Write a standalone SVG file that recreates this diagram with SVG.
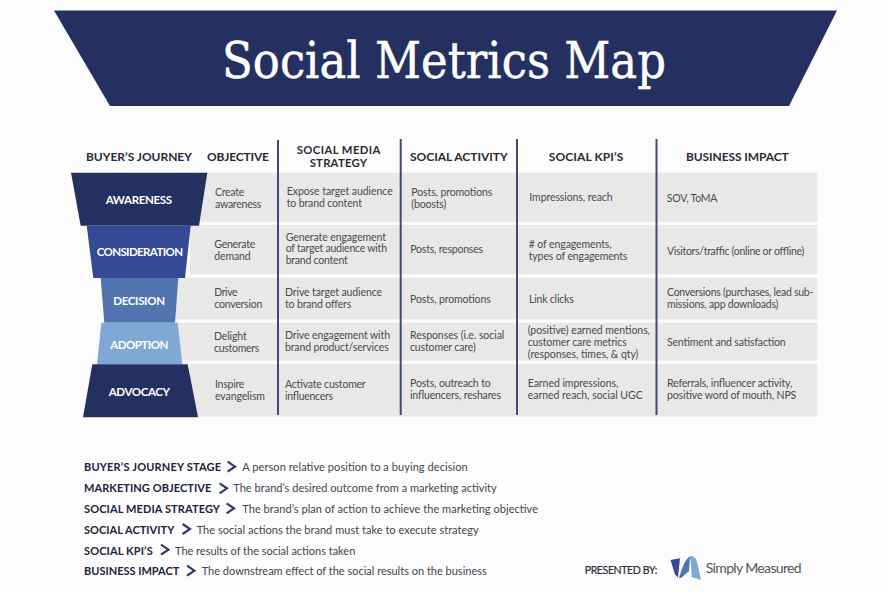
<svg xmlns="http://www.w3.org/2000/svg" width="889" height="593" viewBox="0 0 889 593">
<style>
text{font-family:"Lato","Liberation Sans",sans-serif}
.h{font-size:12px;font-weight:700;fill:#2b2b33}
.h2{font-size:11.3px;font-weight:700;fill:#2b2b33}
.b{font-size:10.5px;fill:#4a4a50}
.f{font-size:11.5px;font-weight:700;fill:#fff}
.k{font-size:11px;font-weight:700;fill:#23233a}
.d{font-size:11px;fill:#44444c}
.c{fill:none;stroke:#2f3a68;stroke-width:2.2;stroke-linecap:butt;stroke-linejoin:miter}
.r{fill:#e8e8e6}
.v{stroke:#3f4a7c;stroke-width:2}
</style>
<rect width="889" height="593" fill="#fcfcfd"/>
<g id="banner">
<polygon points="54,10.5 837,10.5 789,106 110,106" fill="#24305f"/>
<text x="222" y="78" font-size="50" fill="#fff" stroke="#fff" stroke-width="0.5" style="font-family:'DejaVu Serif','Liberation Serif',serif" textLength="444" lengthAdjust="spacingAndGlyphs">Social Metrics Map</text>
</g>
<g id="rows">
<rect class="r" x="190" y="172.7" width="627.3" height="49.3"/>
<rect class="r" x="190" y="225" width="627.3" height="49.3"/>
<rect class="r" x="170" y="277.7" width="647.3" height="41.6"/>
<rect class="r" x="170" y="322.7" width="647.3" height="38"/>
<rect class="r" x="190" y="364" width="627.3" height="52.7"/>
</g>
<g id="dividers">
<line class="v" x1="278" y1="140" x2="278" y2="415"/>
<line class="v" x1="400.7" y1="139" x2="400.7" y2="415"/>
<line class="v" x1="517" y1="139" x2="517" y2="415"/>
<line class="v" x1="656.5" y1="139" x2="656.5" y2="415"/>
</g>
<g id="headers">
<text class="h" x="86" y="160.7" textLength="106">BUYER’S JOURNEY</text>
<text class="h" x="207" y="160.7" textLength="62">OBJECTIVE</text>
<text class="h2" x="296.7" y="153.6" textLength="83.7">SOCIAL MEDIA</text>
<text class="h2" x="309.7" y="167.3" textLength="57.3">STRATEGY</text>
<text class="h" x="410" y="160.7" textLength="97.7">SOCIAL ACTIVITY</text>
<text class="h" x="548.7" y="160.7" textLength="74.7">SOCIAL KPI’S</text>
<text class="h" x="686" y="160.7" textLength="102.7">BUSINESS IMPACT</text>
</g>
<g id="stage-awareness">
<polygon points="71,172.7 207.3,172.7 199,225.7 80.7,225.7" fill="#24305f"/>
<text class="f" x="105.7" y="204" textLength="66.3">AWARENESS</text>
</g>
<g id="stage-consideration">
<polygon points="86.7,225.7 190.7,225.7 185,278 93.3,278" fill="#344a94"/>
<text class="f" x="96.7" y="256.3" textLength="86.3">CONSIDERATION</text>
</g>
<g id="stage-decision">
<polygon points="100.7,278 178.3,278 175,322.7 104.3,322.7" fill="#5274b0"/>
<text class="f" x="113.3" y="305" textLength="51.7">DECISION</text>
</g>
<g id="stage-adoption">
<polygon points="101.3,322.7 177.7,322.7 182.3,364.3 97,364.3" fill="#7fa9d4"/>
<text class="f" x="110.3" y="349" textLength="58">ADOPTION</text>
</g>
<g id="stage-advocacy">
<polygon points="92.3,364.3 187.7,364.3 198,417.3 83,417.3" fill="#24305f"/>
<text class="f" x="108.7" y="396" textLength="61.3">ADVOCACY</text>
</g>
<g id="cells">
<text class="b" x="215" y="195.7" textLength="29.3">Create</text><text class="b" x="215" y="207.7" textLength="46.3">awareness</text>
<text class="b" x="214.3" y="248.3" textLength="41">Generate</text><text class="b" x="214.3" y="260" textLength="36.3">demand</text>
<text class="b" x="214.3" y="296" textLength="23.3">Drive</text><text class="b" x="214.3" y="308" textLength="48">conversion</text>
<text class="b" x="214" y="340" textLength="32.7">Delight</text><text class="b" x="214" y="352" textLength="45.3">customers</text>
<text class="b" x="215" y="388" textLength="29.3">Inspire</text><text class="b" x="215" y="400" textLength="50">evangelism</text>

<text class="b" x="286.7" y="195" textLength="106">Expose target audience</text><text class="b" x="286.7" y="206.7" textLength="75.3">to brand content</text>
<text class="b" x="285.7" y="241" textLength="100.3">Generate engagement</text><text class="b" x="285.7" y="252.3" textLength="101.3">of target audience with</text><text class="b" x="285.7" y="264" textLength="62">brand content</text>
<text class="b" x="285" y="296" textLength="97">Drive target audience</text><text class="b" x="285" y="308" textLength="66.3">to brand offers</text>
<text class="b" x="285" y="339" textLength="105">Drive engagement with</text><text class="b" x="285" y="351" textLength="103.7">brand product/services</text>
<text class="b" x="285" y="388" textLength="80.7">Activate customer</text><text class="b" x="285" y="400" textLength="48">influencers</text>

<text class="b" x="411.3" y="196" textLength="81">Posts, promotions</text><text class="b" x="411.3" y="208" textLength="35">(boosts)</text>
<text class="b" x="410.3" y="253" textLength="72.7">Posts, responses</text>
<text class="b" x="410" y="303" textLength="80.7">Posts, promotions</text>
<text class="b" x="410" y="339" textLength="94.3">Responses (i.e. social</text><text class="b" x="410" y="351" textLength="65.7">customer care)</text>
<text class="b" x="410" y="387" textLength="80.7">Posts, outreach to</text><text class="b" x="410" y="399" textLength="91">influencers, reshares</text>

<text class="b" x="529.3" y="201" textLength="83.3">Impressions, reach</text>
<text class="b" x="528.7" y="248" textLength="83">&#35; of engagements,</text><text class="b" x="528.7" y="260" textLength="98.7">types of engagements</text>
<text class="b" x="529" y="302.7" textLength="44.7">Link clicks</text>
<text class="b" x="527.7" y="334" textLength="122.3">(positive) earned mentions,</text><text class="b" x="527.7" y="346" textLength="99">customer care metrics</text><text class="b" x="527.7" y="358" textLength="110.7">(responses, times, &amp; qty)</text>
<text class="b" x="527.7" y="387" textLength="90.7">Earned impressions,</text><text class="b" x="527.7" y="399" textLength="115">earned reach, social UGC</text>

<text class="b" x="666.7" y="201.7" textLength="50.7">SOV, ToMA</text>
<text class="b" x="667" y="254.7" textLength="137.3">Visitors/traffic (online or offline)</text>
<text class="b" x="667" y="296" textLength="146.3">Conversions (purchases, lead sub-</text><text class="b" x="667" y="308" textLength="111.3">missions, app downloads)</text>
<text class="b" x="667" y="346" textLength="118.7">Sentiment and satisfaction</text>
<text class="b" x="667" y="387" textLength="125.3">Referrals, influencer activity,</text><text class="b" x="667" y="399" textLength="129.3">positive word of mouth, NPS</text>
</g>
<g id="legend">
<text class="k" x="84" y="471" textLength="137">BUYER’S JOURNEY STAGE</text><path class="c" d="M227.6,461.7 L235,466.7 L227.6,471.7"/><text class="d" x="242.3" y="471" textLength="225.4">A person relative position to a buying decision</text>
<text class="k" x="84" y="492.3" textLength="127.3">MARKETING OBJECTIVE</text><path class="c" d="M219.6,483.3 L227,488.3 L219.6,493.3"/><text class="d" x="233.3" y="492.3" textLength="263.4">The brand’s desired outcome from a marketing activity</text>
<text class="k" x="84" y="513.3" textLength="136">SOCIAL MEDIA STRATEGY</text><path class="c" d="M226.6,503.3 L234,508.3 L226.6,513.3"/><text class="d" x="242.3" y="513.3" textLength="295.7">The brand’s plan of action to achieve the marketing objective</text>
<text class="k" x="84" y="534" textLength="90.3">SOCIAL ACTIVITY</text><path class="c" d="M182.6,524 L190,529 L182.6,534"/><text class="d" x="196.7" y="534" textLength="282">The social actions the brand must take to execute strategy</text>
<text class="k" x="84" y="555" textLength="68.7">SOCIAL KPI’S</text><path class="c" d="M161,544.7 L168.4,549.7 L161,554.7"/><text class="d" x="175" y="555" textLength="180.3">The results of the social actions taken</text>
<text class="k" x="84" y="575" textLength="95.3">BUSINESS IMPACT</text><path class="c" d="M187,565.7 L194.4,570.7 L187,575.7"/><text class="d" x="201.7" y="575" textLength="285">The downstream effect of the social results on the business</text>
</g>
<g id="logo">
<text x="584.7" y="573.7" font-size="10.5" font-weight="400" fill="#2e2e38" stroke="#2e2e38" stroke-width="0.2" textLength="72.7">PRESENTED BY:</text>
<path d="M670.5,560 L680,558.2 L678,577.5 L675,574.5 Z" fill="#33489a"/>
<path d="M679,578 C682,568 685,559 690,556.5 L689,571 L681,578 Z" fill="#5274b0"/>
<path d="M689.5,556 C694,555.5 696,558 697,562 L701,580 L691.5,577 C691.5,570 691.5,562 689.5,556 Z" fill="#7fa9d4"/>
<text x="705.7" y="573.3" font-size="14" fill="#55555c" textLength="96">Simply Measured</text>
</g>
</svg>
